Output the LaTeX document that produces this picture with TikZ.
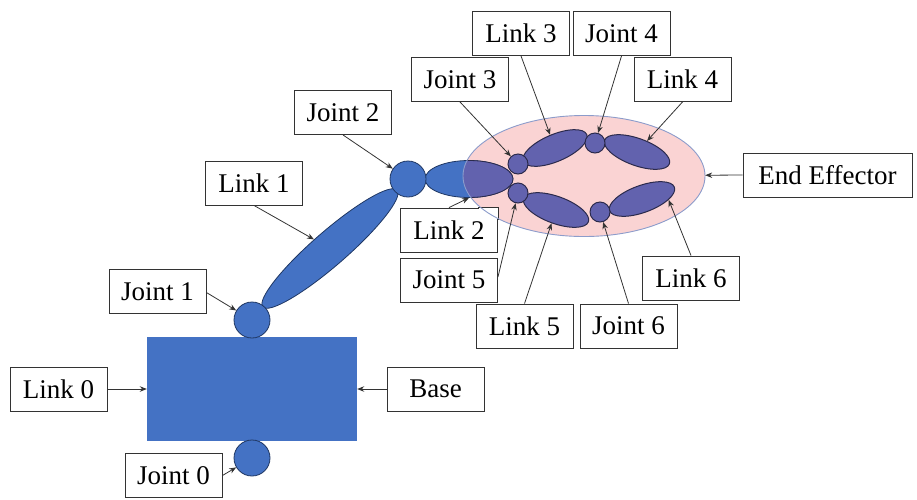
\documentclass[tikz,border=0pt]{standalone}
\usepackage{fontspec}
\newfontfamily\lblfont{Liberation Serif}
\usetikzlibrary{shapes.geometric,arrows.meta}
\definecolor{rblue}{HTML}{4472C4}
\definecolor{rnavy}{HTML}{1F3763}
\definecolor{rpurp}{HTML}{6262AE}
\definecolor{rpurpline}{HTML}{2B2A4C}
\definecolor{rpink}{HTML}{FAD3D3}
\definecolor{rpinkline}{HTML}{8C9CCB}
\definecolor{rline}{HTML}{333333}
\begin{document}
\begin{tikzpicture}[x=1pt,y=-1pt,
  lbox/.style={draw=rline, line width=0.9pt, fill=white, rectangle, minimum width=97pt, minimum height=44pt, inner sep=2pt, font=\lblfont\fontsize{27}{30}\selectfont},
  bjoint/.style={circle, draw=rnavy, line width=0.8pt, fill=rblue, inner sep=0pt, minimum size=36pt},
  blink/.style={ellipse, draw=rnavy, line width=0.8pt, fill=rblue, inner sep=0pt},
  pjoint/.style={circle, draw=rpurpline, line width=1pt, fill=rpurp, inner sep=0pt, minimum size=20pt},
  plink/.style={ellipse, draw=rpurpline, line width=1pt, fill=rpurp, inner sep=0pt, minimum width=69pt, minimum height=27pt},
  arr/.style={draw=rline, line width=0.8pt, -{Stealth[length=7pt,width=5.5pt]}}]
\useasboundingbox (0,0) rectangle (917,499);

% labels (set first)
\node[lbox] (lk3b) at (521,33.5) {Link 3};
\node[lbox] (jt4b) at (621.5,33.5) {Joint 4};
\node[lbox] (jt3b) at (460,79.5) {Joint 3};
\node[lbox] (lk4b) at (682.5,79.5) {Link 4};
\node[lbox, minimum width=169pt] (eeb) at (827.5,175) {End Effector};
\node[lbox] (jt2b) at (343,112.5) {Joint 2};
\node[lbox] (lk1b) at (254,183) {Link 1};
\node[lbox] (lk2b) at (449,230) {Link 2};
\node[lbox] (jt5b) at (449,280) {Joint 5};
\node[lbox] (lk5b) at (524.5,326) {Link 5};
\node[lbox] (jt6b) at (628.5,326) {Joint 6};
\node[lbox] (lk6b) at (691,278) {Link 6};
\node[lbox] (jt1b) at (157.5,291.5) {Joint 1};
\node[lbox] (lk0b) at (58.5,389) {Link 0};
\node[lbox] (bsb) at (435.5,389) {Base};
\node[lbox] (jt0b) at (173.5,475.5) {Joint 0};

% end effector background
\node[ellipse, fill=rpink, inner sep=0pt, minimum width=242pt, minimum height=121pt] (ee) at (584,176) {};
% keep the corner of the Link 2 box above the end effector
\fill[white] (479,208) rectangle (497.5,218.5);
\draw[rline, line width=0.9pt] ([xshift=-20pt]lk2b.north east) -- (lk2b.north east) -- ([yshift=-12pt]lk2b.north east);

% base and joints
\node[rectangle, fill=rblue, inner sep=0pt, minimum width=210pt, minimum height=104pt] (base) at (252,389) {};
\node[bjoint] (j0) at (252,458) {};
\node[blink, minimum width=178pt, minimum height=34pt, rotate=41] (l1) at (330,248.5) {};
\node[bjoint] (j1) at (252,320) {};
\node[blink, minimum width=88pt, minimum height=37pt] (l2) at (469,179) {};
\node[bjoint] (j2) at (408,179) {};

% part of link 2 seen through the end effector
\fill[rpurp] (467,160.52) arc[start angle=92.6, end angle=-87.4, x radius=44pt, y radius=18.5pt]
  arc[start angle=200.8, end angle=165.2, x radius=121pt, y radius=60.5pt] -- cycle;
\draw[rpurpline, line width=0.8pt] (467,160.52) arc[start angle=92.6, end angle=-87.4, x radius=44pt, y radius=18.5pt];
\draw[draw=rpinkline, line width=0.9pt] (584,176) ellipse [x radius=121pt, y radius=60.5pt];

% inner gripper
\node[plink, rotate=23] (l3) at (555,148) {};
\node[plink, rotate=-20] (l4) at (637,152) {};
\node[plink, rotate=-20] (l5) at (556,210) {};
\node[plink, rotate=20] (l6) at (642,199) {};
\node[pjoint] (j3) at (518,164) {};
\node[pjoint] (j4) at (595,143) {};
\node[pjoint] (j5) at (518,193) {};
\node[pjoint] (j6) at (600,212) {};

% connectors
\draw[arr] (lk3b.south) -- (l3);
\draw[arr] (jt4b.south) -- (j4);
\draw[arr] (jt3b.south) -- (j3);
\draw[arr] (lk4b.south) -- (l4);
\draw[arr] (eeb.west) -- (ee);
\draw[arr] (lk2b.north) -- (l2.south);
\draw[arr] ([yshift=3pt]jt5b.east) -- (j5);
\draw[arr] (lk5b.north) -- (l5);
\draw[arr] (jt6b.north) -- (j6);
\draw[arr] (lk6b.north) -- (l6.south east);
\draw[arr] (jt2b.south) -- (j2);
\draw[arr] (lk1b.south) -- (l1);
\draw[arr] ([yshift=-1pt]jt1b.east) -- (j1);
\draw[arr] (lk0b.east) -- (base.west);
\draw[arr] (bsb.west) -- (base.east);
\draw[arr] (jt0b.east) -- (j0);
\end{tikzpicture}
\end{document}
